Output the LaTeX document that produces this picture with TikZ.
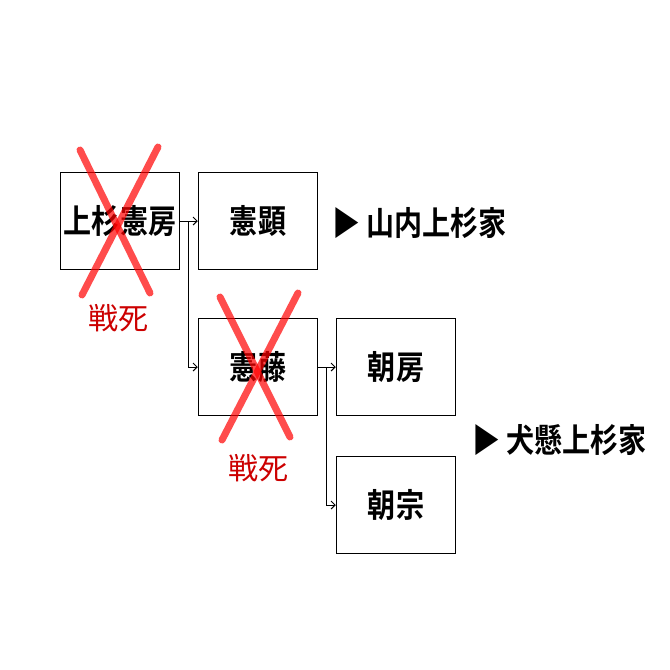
\documentclass[tikz,border=0pt]{standalone}
\usepackage{fontspec}
\usetikzlibrary{arrows.meta}
\newfontfamily\cjk{Noto Sans CJK JP}[BoldFont={Noto Sans CJK JP Bold}]
\begin{document}
\begin{tikzpicture}[x=1pt,y=-1pt,
  box/.style={draw,line width=1.5pt,minimum width=119pt,minimum height=97pt,inner sep=0,
    font=\cjk\bfseries\fontsize{33}{33}\selectfont},
  lbl/.style={font=\cjk\bfseries\fontsize{33}{33}\selectfont,inner sep=0},
  dead/.style={text=red!80!black,font=\cjk\fontsize{30}{30}\selectfont,inner sep=0},
  cross/.style={draw=red,opacity=0.7,line width=7pt,line cap=round},
  conn/.style={draw,line width=1pt,-{Straight Barb[length=4pt]}}]
\useasboundingbox (0,0) rectangle (670,670);
\node[box] (a) at (120,221) {\scalebox{0.85}[1]{上杉憲房}};
\node[box] (b) at (258,221) {\scalebox{0.85}[1]{憲顕}};
\node[box] (c) at (258,367) {\scalebox{0.85}[1]{憲藤}};
\node[box] (d) at (396,367) {\scalebox{0.85}[1]{朝房}};
\node[box] (e) at (396,505) {\scalebox{0.85}[1]{朝宗}};
\node[lbl,anchor=west] (l1) at (332,223) {\scalebox{0.85}[1]{▶ 山内上杉家}};
\node[lbl,anchor=west] (l2) at (472,440) {\scalebox{0.85}[1]{▶ 犬懸上杉家}};
\node[dead] (k1) at (118,318) {戦死};
\node[dead] (k2) at (258,468) {戦死};
\coordinate (j1) at (188,221);
\coordinate (j2) at (326,367);
\draw[conn] (a.east) -- (b.west);
\draw[conn] (j1) |- (c.west);
\draw[conn] (c.east) -- (d.west);
\draw[conn] (j2) |- (e.west);
\draw[cross] (80,150) -- (150,293);
\draw[cross] (158,147) -- (82,295);
\draw[cross] (220,297) -- (290,437);
\draw[cross] (298,293) -- (222,440);
\end{tikzpicture}
\end{document}
